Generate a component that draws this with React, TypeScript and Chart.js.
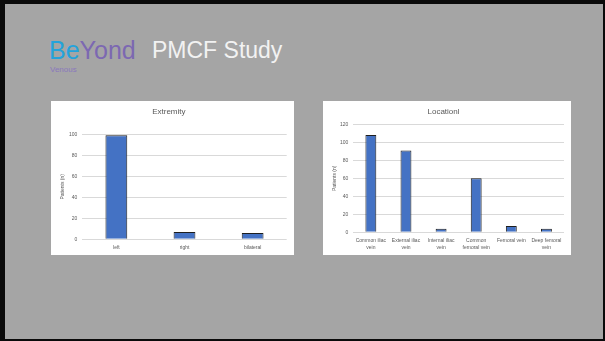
import React, { useEffect, useRef } from 'react';
import { Chart, registerables } from 'chart.js';

Chart.register(...registerables);

// ---- data ----
const extremityLabels: string[] = ['left', 'right', 'bilateral'];
const extremityValues: number[] = [99, 7, 6];
const extremityTickMax = 100;
const extremityTickStep = 20;

const locationLabels: (string | string[])[] = [
  ['Common iliac', 'vein'],
  ['External iliac', 'vein'],
  ['Internal iliac', 'vein'],
  ['Common', 'femoral vein'],
  'Femoral vein',
  ['Deep femoral', 'vein'],
];
const locationValues: number[] = [108, 91, 4, 60, 7, 4];
const locationTickMax = 120;
const locationTickStep = 20;

const yAxisTitle = 'Patients (n)';

const FONT = "'Liberation Sans', Arial, sans-serif";
const TEXT_GREY = '#595959';

type PanelProps = {
  x: number;
  y: number;
  w: number;
  h: number;
  title: string;
  labels: (string | string[])[];
  values: number[];
  max: number;
  step: number;
  titleBottom: number;
  yWidth: number;
  xHeight: number;
  barPct: number;
  yTitlePad: number;
  padRight: number;
};

function BarPanel(p: PanelProps) {
  const ref = useRef<HTMLCanvasElement | null>(null);
  useEffect(() => {
    if (!ref.current) return;
    const chart = new Chart(ref.current, {
      type: 'bar',
      data: {
        labels: p.labels,
        datasets: [
          {
            data: p.values,
            backgroundColor: '#4472c4',
            borderColor: '#1e1e1e',
            borderWidth: 1,
            categoryPercentage: 1,
            barPercentage: p.barPct,
          },
        ],
      },
      options: {
        responsive: false,
        animation: false,
        devicePixelRatio: 1,
        layout: { padding: { left: 0, right: p.padRight, top: 0, bottom: 0 } },
        plugins: {
          legend: { display: false },
          tooltip: { enabled: false },
          title: {
            display: true,
            text: p.title,
            color: TEXT_GREY,
            font: { family: FONT, size: 8, weight: 'normal' },
            padding: { top: 6, bottom: p.titleBottom },
          },
        },
        scales: {
          x: {
            grid: { display: false, drawTicks: false },
            border: { display: false },
            ticks: {
              color: TEXT_GREY,
              font: { family: FONT, size: 5, lineHeight: 1.4 },
              padding: 5,
              maxRotation: 0,
              minRotation: 0,
              autoSkip: false,
            },
            afterFit: (scale: any) => {
              scale.height = p.xHeight;
            },
          },
          y: {
            min: 0,
            max: p.max,
            grid: { color: '#d9d9d9', lineWidth: 1, drawTicks: false },
            border: { display: false },
            ticks: {
              stepSize: p.step,
              color: TEXT_GREY,
              font: { family: FONT, size: 5 },
              padding: 5,
            },
            title: {
              display: true,
              text: yAxisTitle,
              color: TEXT_GREY,
              font: { family: FONT, size: 5 },
              padding: { top: p.yTitlePad, bottom: 0 },
            },
            afterFit: (scale: any) => {
              scale.width = p.yWidth;
            },
          },
        },
      } as any,
    });
    return () => chart.destroy();
  }, []);
  return (
    <div
      style={{
        position: 'absolute',
        left: p.x,
        top: p.y,
        width: p.w,
        height: p.h,
        background: '#ffffff',
      }}
    >
      <canvas ref={ref} width={p.w} height={p.h} style={{ display: 'block', width: p.w, height: p.h }} />
    </div>
  );
}

export default function App() {
  return (
    <div
      style={{
        position: 'fixed',
        left: 0,
        top: 0,
        width: 605,
        height: 341,
        background: '#a5a5a5',
        overflow: 'hidden',
        fontFamily: FONT,
      }}
    >
      <div
        style={{
          position: 'absolute',
          left: 49,
          top: 38,
          fontSize: 25,
          lineHeight: '25px',
          whiteSpace: 'nowrap',
        }}
      >
        <span style={{ color: '#23a3dc' }}>Be</span>
        <span style={{ color: '#7c68b2' }}>Yond</span>
      </div>
      <div
        style={{
          position: 'absolute',
          left: 50,
          top: 65.5,
          fontSize: 8,
          lineHeight: '8px',
          color: '#8a78bd',
          whiteSpace: 'nowrap',
        }}
      >
        Venous
      </div>
      <div
        style={{
          position: 'absolute',
          left: 152,
          top: 38.8,
          fontSize: 23,
          lineHeight: '23px',
          color: '#f2f2f2',
          whiteSpace: 'nowrap',
        }}
      >
        PMCF Study
      </div>

      <BarPanel
        x={51}
        y={101}
        w={243}
        h={154}
        title="Extremity"
        labels={extremityLabels}
        values={extremityValues}
        max={extremityTickMax}
        step={extremityTickStep}
        titleBottom={17.7}
        yWidth={31.3}
        xHeight={15.7}
        barPct={0.32}
        yTitlePad={8.3}
        padRight={7.3}
      />
      <BarPanel
        x={323}
        y={101}
        w={248}
        h={154}
        title="Locationl"
        labels={locationLabels}
        values={locationValues}
        max={locationTickMax}
        step={locationTickStep}
        titleBottom={7.7}
        yWidth={30.3}
        xHeight={22.7}
        barPct={0.31}
        yTitlePad={9}
        padRight={7}
      />

      <div
        style={{
          position: 'absolute',
          left: 0,
          top: 0,
          width: 605,
          height: 341,
          boxSizing: 'border-box',
          borderStyle: 'solid',
          borderColor: '#0a0a0a',
          borderWidth: '4px 2px 2px 5px',
          pointerEvents: 'none',
        }}
      />
    </div>
  );
}
